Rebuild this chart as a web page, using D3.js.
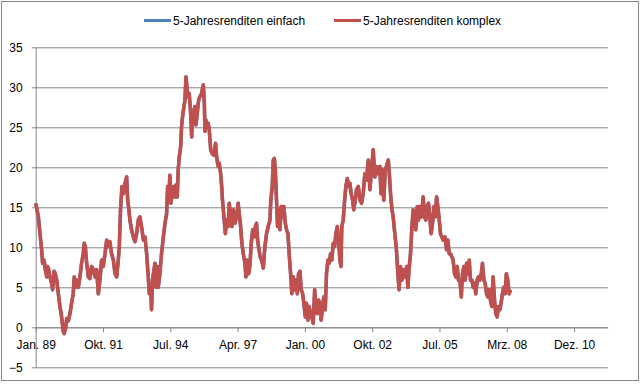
<!DOCTYPE html>
<html>
<head>
<meta charset="utf-8">
<script src="https://cdn.jsdelivr.net/npm/d3@7"></script>
<style>
  body { margin: 0; background: #fff; }
  text { font-family: "Liberation Sans", Arial, sans-serif; font-size: 12px; fill: #000; }
</style>
</head>
<body>
<svg id="canvas"></svg>
<script>
let width = 643,
height = 386

// Monate seit Jan. 1989
let monate = [
  0, 0.8, 1.3, 2.1, 2.9, 3.4, 4.1, 4.6, 5.4, 5.7, 6.2, 7.0, 7.8, 8.3, 9.0, 9.5, 10.3, 11.1, 11.9, 12.7,
  13.5, 14.0, 14.7, 15.2, 16.0, 16.8, 17.6, 18.4, 18.9, 19.6, 20.1, 20.9, 21.7, 22.5, 23.3, 23.8, 24.3, 25.0, 25.8, 26.6,
  27.4, 28.3, 29.1, 29.9, 30.7, 31.5, 32.3, 33.1, 34.0, 34.8, 35.6, 36.4, 37.2, 38.1, 38.9, 39.7, 40.5, 41.0, 41.6, 42.3,
  43.0, 43.8, 44.6, 45.1, 45.7, 46.2, 47.0, 47.9, 48.7, 49.5, 50.3, 51.1, 51.9, 52.8, 53.6, 54.4, 55.2, 55.7, 56.4, 56.8,
  57.3, 58.0, 58.5, 59.0, 59.6, 60.1, 60.9, 61.7, 62.6, 63.4, 64.2, 64.7, 65.2, 65.8, 66.3, 67.0, 67.5, 68.3, 68.8, 69.4,
  69.9, 70.4, 71.1, 71.5, 72.0, 72.7, 73.2, 73.7, 74.2, 74.7, 75.3, 76.0, 76.5, 76.9, 77.6, 78.1, 78.6, 79.2, 79.9, 80.5,
  81.3, 82.2, 82.7, 83.0, 83.5, 84.1, 84.6, 85.1, 85.8, 86.6, 87.4, 88.2, 88.7, 89.5, 90.0, 90.7, 91.2, 91.6, 92.3, 93.0,
  93.6, 94.4, 94.9, 95.6, 96.2, 96.9, 97.7, 98.5, 99.3, 99.8, 100.5, 101.1, 101.8, 102.6, 103.1, 103.7, 104.4, 105.0, 105.7, 106.4,
  107.0, 107.7, 108.3, 108.8, 109.5, 110.1, 110.8, 111.6, 112.4, 113.2, 114.0, 114.9, 115.3, 116.0, 116.5, 117.0, 117.5, 118.1, 118.6, 119.3,
  119.8, 120.4, 121.1, 121.7, 122.4, 123.0, 123.7, 124.3, 125.0, 125.6, 126.3, 126.9, 127.6, 128.3, 128.9, 129.6, 130.2, 130.9, 131.5, 132.2,
  132.8, 133.5, 134.1, 134.8, 135.4, 136.1, 136.8, 137.4, 138.1, 138.7, 139.4, 140.0, 140.7, 141.3, 142.0, 142.6, 143.3, 143.9, 144.6, 145.2,
  145.9, 146.6, 147.2, 147.9, 148.5, 149.2, 149.7, 150.1, 150.8, 151.5, 152.1, 152.8, 153.4, 154.1, 154.7, 155.4, 156.0, 156.7, 157.3, 158.2,
  159.0, 159.8, 160.6, 161.4, 162.2, 163.1, 163.9, 164.7, 165.5, 166.3, 167.1, 168.0, 168.8, 169.3, 169.9, 170.7, 171.4, 172.0, 172.9, 173.4,
  174.0, 174.7, 175.3, 176.1, 176.9, 177.6, 178.2, 178.9, 179.6, 180.2, 181.0, 181.9, 182.5, 183.2, 183.8, 184.5, 185.1, 185.8, 186.4, 187.1,
  187.7, 188.4, 189.2, 190.0, 190.7, 191.3, 192.0, 192.6, 193.3, 193.9, 194.6, 195.3, 195.9, 196.6, 197.2, 197.9, 198.5, 199.2, 199.8, 200.7,
  201.5, 202.1, 202.8, 203.4, 204.1, 204.7, 205.4, 206.0, 206.7, 207.3, 208.0, 208.7, 209.3, 210.0, 210.6, 211.3, 211.9, 212.6, 213.2, 213.9,
  214.5, 215.2, 215.8, 216.5, 217.1, 217.8, 218.5, 219.1, 219.8, 220.4, 221.1, 221.7, 222.4, 223.0, 223.7, 224.3, 225.0, 225.6, 226.3, 226.9,
  227.6, 228.2, 228.9, 229.5, 230.2, 230.8, 231.5, 232.2, 232.8
]

let renditeKomplex = [
  15.5, 14.5, 13.8, 11.7, 9.7, 8.0, 8.4, 7.4, 6.3, 7.6, 7.4, 6.3, 5.5, 4.7, 7.0, 6.8, 5.9, 4.2, 2.6, 1.3,
  -0.5, -0.8, 0.0, 1.1, 0.8, 1.7, 3.0, 4.2, 6.3, 5.0, 5.9, 5.0, 6.3, 8.0, 9.2, 10.5, 10.1, 8.0, 6.3, 6.1,
  7.6, 7.2, 6.3, 7.2, 4.2, 5.9, 8.4, 7.6, 9.2, 10.9, 10.1, 10.7, 9.2, 8.4, 6.7, 6.3, 8.4, 10.1, 14.7, 17.6,
  16.7, 18.0, 18.8, 15.9, 14.7, 13.4, 12.2, 11.3, 10.7, 11.7, 13.4, 13.8, 12.6, 10.9, 11.3, 9.2, 6.3, 4.2, 5.0, 2.2,
  5.9, 7.2, 8.0, 5.0, 7.6, 5.0, 6.7, 9.2, 11.3, 13.0, 14.2, 17.6, 15.9, 19.0, 15.5, 16.7, 17.6, 16.3, 17.8, 16.3,
  19.7, 21.3, 22.6, 25.0, 26.3, 27.6, 28.4, 31.3, 30.0, 28.8, 29.2, 26.7, 23.8, 26.7, 27.1, 27.6, 25.3, 26.7, 28.4, 28.8,
  29.2, 30.3, 28.0, 24.5, 25.9, 25.0, 25.5, 24.7, 22.2, 21.7, 21.5, 23.0, 21.3, 20.1, 20.5, 19.2, 17.6, 15.9, 13.8, 11.7,
  13.4, 12.6, 15.5, 13.8, 12.6, 14.7, 13.0, 13.8, 15.5, 14.2, 12.6, 10.5, 9.2, 8.0, 6.3, 8.4, 6.7, 7.6, 10.5, 12.2,
  11.3, 12.6, 13.0, 10.9, 9.7, 8.8, 8.4, 7.4, 10.1, 11.7, 12.6, 13.4, 15.9, 17.6, 20.9, 21.1, 19.7, 15.9, 12.6, 14.7,
  12.2, 15.1, 13.8, 15.1, 13.0, 12.2, 11.7, 9.2, 6.7, 4.2, 6.3, 4.7, 5.9, 4.2, 6.7, 7.0, 4.7, 4.2, 3.0, 1.3,
  3.0, 0.9, 2.6, 1.7, 1.3, 0.5, 4.7, 2.6, 1.7, 3.4, 3.0, 0.9, 2.6, 3.8, 2.2, 6.7, 8.4, 8.0, 9.2, 8.4,
  10.5, 10.1, 11.7, 12.6, 10.9, 8.4, 7.6, 12.6, 13.4, 15.9, 17.6, 18.6, 17.6, 18.0, 16.7, 15.9, 14.7, 15.9, 17.2, 17.6,
  15.9, 15.5, 16.7, 19.2, 18.4, 20.9, 17.2, 19.7, 22.2, 18.8, 20.1, 19.2, 20.1, 16.7, 19.7, 15.9, 19.7, 20.1, 20.9, 19.2,
  16.7, 14.7, 13.8, 11.7, 9.7, 6.7, 4.7, 7.6, 5.9, 7.2, 6.3, 7.6, 5.0, 7.6, 9.2, 12.6, 14.7, 13.8, 12.2, 15.1,
  13.4, 15.1, 13.8, 16.3, 13.8, 13.4, 15.1, 15.5, 13.8, 11.7, 13.0, 15.1, 13.8, 16.3, 15.1, 13.4, 11.7, 11.3, 10.9, 11.3,
  9.7, 10.9, 9.2, 9.2, 8.8, 8.4, 6.7, 6.3, 7.6, 5.9, 5.9, 3.8, 6.7, 7.6, 5.9, 8.0, 6.7, 8.4, 5.9, 5.9,
  5.0, 5.5, 4.2, 5.9, 6.3, 5.9, 6.7, 8.0, 5.9, 5.5, 4.2, 3.8, 4.7, 3.4, 2.6, 6.3, 3.4, 1.7, 1.3, 2.6,
  2.2, 3.0, 4.2, 5.0, 4.2, 6.7, 5.9, 4.2, 4.7
]

// die einfache Rendite liegt praktisch deckungsgleich unter der komplexen
let renditeEinfach = renditeKomplex

let tickMonate = [0, 33, 66, 99, 132, 165, 198, 231, 264]
let tickLabels = ['Jan. 89', 'Okt. 91', 'Jul. 94', 'Apr. 97', 'Jan. 00', 'Okt. 02', 'Jul. 05', 'Mrz. 08', 'Dez. 10']
let yTicks = [-5, 0, 5, 10, 15, 20, 25, 30, 35]

let serien = [
    { name: '5-Jahresrenditen einfach', werte: renditeEinfach, color: '#4F81BD' },
    { name: '5-Jahresrenditen komplex', werte: renditeKomplex, color: '#C0504D' }
]

let canvas = d3.select('#canvas')
.attr('width', width)
.attr('height', height)

canvas.append('rect')
.attr('x', 1.5).attr('y', 1.5)
.attr('width', 637).attr('height', 379)
.attr('fill', '#fff')
.attr('stroke', '#868686')

let x = d3.scaleLinear().domain([0, 280.5]).range([35.7, 607.7])
let y = d3.scaleLinear().domain([-5, 35]).range([367.3, 47.3])

// Gitterlinien + y-Achse
let yAxis = canvas.append('g')
.attr('transform', 'translate(35.7,0)')
.call(d3.axisLeft(y).tickValues(yTicks).tickSize(-(607.7 - 35.7)).tickSizeOuter(0).tickPadding(13))
yAxis.select('.domain').attr('stroke', '#868686')
yAxis.selectAll('.tick line').attr('stroke', '#868686').attr('x1', -4)
yAxis.selectAll('.tick text')
.style('font-family', '"Liberation Sans", Arial, sans-serif')
.style('font-size', '12px')
.attr('fill', '#000')

// x-Achse auf der Nulllinie
let xAxis = canvas.append('g')
.attr('transform', `translate(0,${y(0)})`)
.call(d3.axisBottom(x).tickValues(tickMonate).tickFormat((d, i) => tickLabels[i]).tickSize(5).tickSizeOuter(0).tickPadding(8))
xAxis.select('.domain').attr('stroke', '#868686')
xAxis.selectAll('.tick line').attr('stroke', '#868686')
xAxis.selectAll('.tick text')
.style('font-family', '"Liberation Sans", Arial, sans-serif')
.style('font-size', '12px')
.attr('fill', '#000')

let line = d3.line()
.x((d, i) => x(monate[i]))
.y((d) => y(d))

canvas.selectAll('path.serie')
.data(serien)
.join('path')
.attr('class', 'serie')
.attr('d', (d) => line(d.werte))
.attr('fill', 'none')
.attr('stroke', (d) => d.color)
.attr('stroke-width', (d, i) => i === 0 ? 3.4 : 3.6)
.attr('stroke-linejoin', 'round')

// Legende
let legende = canvas.selectAll('g.legende')
.data(serien)
.join('g')
.attr('class', 'legende')
.attr('transform', (d, i) => `translate(${i === 0 ? 144 : 334},20.5)`)

legende.append('line')
.attr('x1', 0).attr('x2', 27)
.attr('stroke', (d) => d.color)
.attr('stroke-width', 3)

legende.append('text')
.attr('x', 29)
.attr('dy', '0.35em')
.text((d) => d.name)
</script>
</body>
</html>
